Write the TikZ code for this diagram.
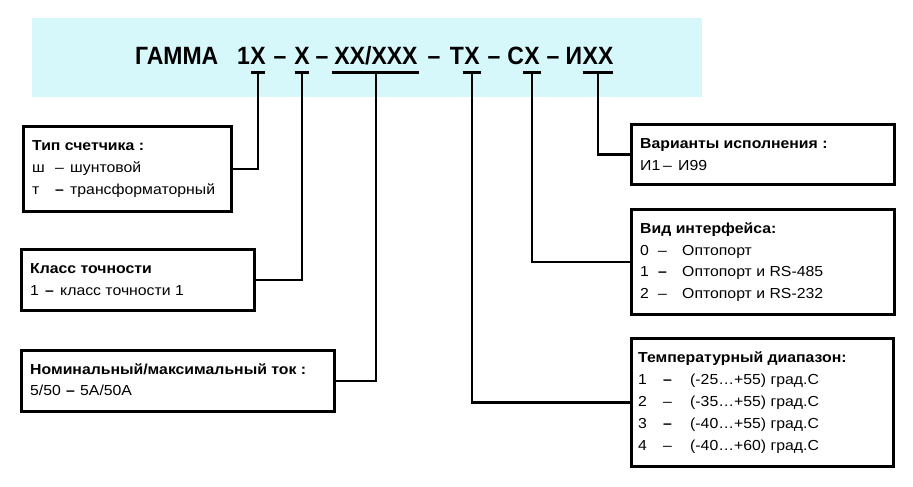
\documentclass[tikz,border=0pt]{standalone}
\usepackage{fontspec}
\setmainfont{Liberation Sans}
\newfontfamily\boxfont[FakeStretch=1.09]{Liberation Sans}
\newfontfamily\titlefont[FakeStretch=0.92]{Liberation Sans}
\definecolor{bandcol}{RGB}{214,248,251}
\tikzset{
  lbl/.style={anchor=base west, inner sep=0pt, font=\boxfont\fontsize{14.5}{16}\selectfont},
  hd/.style={anchor=base west, inner sep=0pt, font=\boxfont\fontsize{14.5}{16}\selectfont\bfseries},
  tfont/.style={inner sep=0pt, font=\titlefont\fontsize{25}{30}\selectfont\bfseries},
  infobox/.style={draw, line width=2.8pt, anchor=north west, inner sep=0pt},
  conn/.style={line width=2.6pt},
  bar/.style={line width=3pt},
}
\newcommand{\lineitem}[8]{%
  \node[lbl] (#1a) at (#3,#2) {#4};
  \node[lbl] (#1b) at (#5,#2) {#6};
  \node[lbl] (#1c) at (#7,#2) {#8};
}
\newcommand{\bd}{\textbf{–}}
\begin{document}
\begin{tikzpicture}[x=1pt,y=-1pt]
\useasboundingbox (0,0) rectangle (913,487);
\fill[bandcol] (32,18) rectangle (702,97);

% title, piece by piece (placeholders centred over their stems)
\node[tfont, anchor=base west] (tg) at (135,65) {ГАММА};
\node[tfont, anchor=base] (t1) at (258,65) {Х};
\node[tfont, anchor=base east] (t1p) at (t1.base west) {1};
\node[tfont, anchor=base] (d1) at (280,65) {–};
\node[tfont, anchor=base] (t2) at (302,65) {Х};
\node[tfont, anchor=base] (d2) at (322,65) {–};
\node[tfont, anchor=base] (t3) at (376,65) {ХХ/ХХХ};
\node[tfont, anchor=base] (d3) at (434,65) {–};
\node[tfont, anchor=base] (t4) at (472,65) {Х};
\node[tfont, anchor=base east] (t4p) at (t4.base west) {Т};
\node[tfont, anchor=base] (d4) at (494,65) {–};
\node[tfont, anchor=base] (t5) at (532,65) {Х};
\node[tfont, anchor=base east] (t5p) at (t5.base west) {С};
\node[tfont, anchor=base] (d5) at (553,65) {–};
\node[tfont, anchor=base] (t6) at (598,65) {ХХ};
\node[tfont, anchor=base east] (t6p) at (t6.base west) {И};

% bars under the placeholders
\coordinate (b1l) at (251,73); \coordinate (b1r) at (265,73); \coordinate (s1) at (258,73);
\coordinate (b2l) at (295,73); \coordinate (b2r) at (309,73); \coordinate (s2) at (302,73);
\coordinate (b3l) at (332,73); \coordinate (b3r) at (419,73); \coordinate (s3) at (376,73);
\coordinate (b4l) at (463,73); \coordinate (b4r) at (481,73); \coordinate (s4) at (472,73);
\coordinate (b5l) at (523,73); \coordinate (b5r) at (541,73); \coordinate (s5) at (532,73);
\coordinate (b6l) at (583,73); \coordinate (b6r) at (613,73); \coordinate (s6) at (598,73);
\foreach \i in {1,...,6} { \draw[bar] (b\i l) -- (b\i r); }

% boxes
\node[infobox, minimum width=208pt, minimum height=85pt] (box1) at (22,125) {};
\node[infobox, minimum width=233pt, minimum height=61pt] (box2) at (20,248) {};
\node[infobox, minimum width=313pt, minimum height=61pt] (box3) at (20,349) {};
\node[infobox, minimum width=263pt, minimum height=60pt] (box4) at (630,123) {};
\node[infobox, minimum width=263pt, minimum height=105pt] (box5) at (630,208) {};
\node[infobox, minimum width=262pt, minimum height=128pt] (box6) at (630,337) {};

% connectors
\draw[conn] (s1) |- (box1.east);
\draw[conn] (s2) |- (box2.east);
\draw[conn] (s3) |- (box3.east);
\draw[conn] (s4) |- (box6.west);
\draw[conn] (s5) |- (box5.west);
\draw[conn] (s6) |- (box4.west);

% box 1
\node[hd] (h1) at (32,150) {Тип счетчика :};
\lineitem{r11}{172}{32}{ш}{55}{–}{70}{шунтовой}
\lineitem{r12}{194}{32}{т}{55}{\bd}{70}{трансформаторный}
% box 2
\node[hd] (h2) at (30,273) {Класс точности};
\lineitem{r21}{295}{30}{1}{45}{\bd}{60}{класс точности 1}
% box 3
\node[hd] (h3) at (30,374) {Номинальный/максимальный ток :};
\lineitem{r31}{395}{30}{5/50}{66}{\bd}{80}{5A/50A}
% box 4
\node[hd] (h4) at (640,148) {Варианты исполнения :};
\lineitem{r41}{170}{640}{И1}{663}{–}{678}{И99}
% box 5
\node[hd] (h5) at (640,233) {Вид интерфейса:};
\lineitem{r51}{255}{640}{0}{658}{–}{682}{Оптопорт}
\lineitem{r52}{276}{640}{1}{658}{\bd}{682}{Оптопорт и RS-485}
\lineitem{r53}{298}{640}{2}{658}{–}{682}{Оптопорт и RS-232}
% box 6
\node[hd] (h6) at (638,362) {Температурный диапазон:};
\lineitem{r61}{384}{638}{1}{663}{\bd}{690}{(-25…+55) град.С}
\lineitem{r62}{406}{638}{2}{663}{–}{690}{(-35…+55) град.С}
\lineitem{r63}{428}{638}{3}{663}{\bd}{690}{(-40…+55) град.С}
\lineitem{r64}{450}{638}{4}{663}{–}{690}{(-40…+60) град.С}
\end{tikzpicture}
\end{document}
